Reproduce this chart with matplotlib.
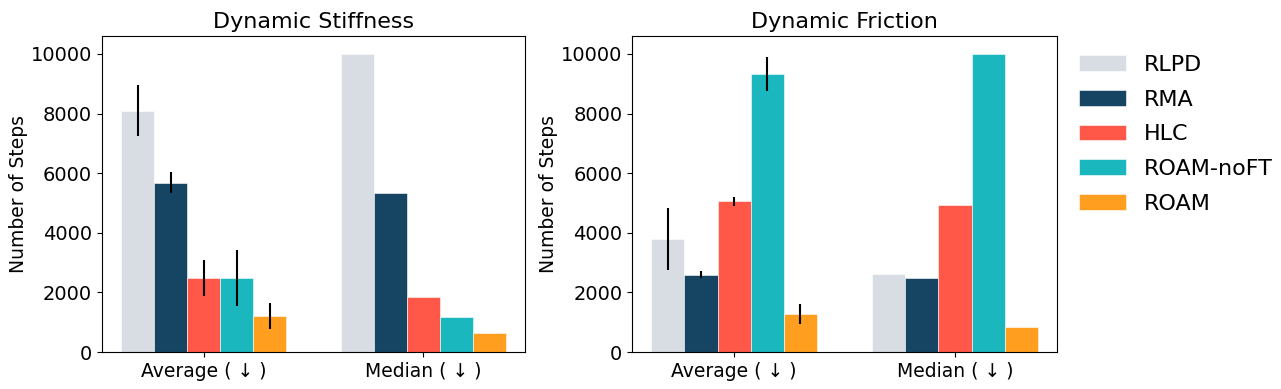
import numpy as np
import matplotlib
matplotlib.use("Agg")
import matplotlib.pyplot as plt

# Data
methods = ["RLPD", "RMA", "HLC", "ROAM-noFT", "ROAM"]
colors = ["#D8DCE3", "#164563", "#FF5748", "#1AB8BE", "#FF9E1F"]
groups = ["Average ( \u2193 )", "Median ( \u2193 )"]

stiff_avg = [8100, 5680, 2480, 2470, 1195]
stiff_avg_err = [860, 350, 600, 940, 435]
stiff_med = [10000, 5330, 1830, 1160, 625]

fric_avg = [3790, 2600, 5050, 9310, 1270]
fric_avg_err = [1030, 117, 160, 570, 335]
fric_med = [2610, 2475, 4940, 10000, 836]

panels = [
    ("Dynamic Stiffness", stiff_avg, stiff_avg_err, stiff_med),
    ("Dynamic Friction", fric_avg, fric_avg_err, fric_med),
]

fig = plt.figure(figsize=(12.81, 3.89), dpi=100)
ax_pos = [[0.0796, 0.0951, 0.3302, 0.8123], [0.4934, 0.0951, 0.3318, 0.8123]]

x = np.arange(len(groups))
width = 0.15
handles = []
for k, (pos, (title, avg, err, med)) in enumerate(zip(ax_pos, panels)):
    ax = fig.add_axes(pos)
    for i, m in enumerate(methods):
        off = (i - 2) * width
        ax.bar(x[0] + off, avg[i], width, color=colors[i], edgecolor="white", linewidth=0.4)
        b = ax.bar(x[1] + off, med[i], width, color=colors[i], edgecolor="white", linewidth=0.4, label=m)
        ax.errorbar(x[0] + off, avg[i], yerr=err[i], fmt="none", ecolor="black", elinewidth=1.5, capsize=0)
        if k == 0:
            handles.append(b)
    ax.set_xticks(x)
    ax.set_xticklabels(groups, fontsize=13.5)
    ax.tick_params(axis="y", labelsize=14)
    ax.set_yticks([0, 2000, 4000, 6000, 8000, 10000])
    ax.set_ylim(0, 10600)
    ax.set_ylabel("Number of Steps", fontsize=13.5, labelpad=2)
    ax.set_title(title, fontsize=16)

fig.legend(handles, methods, loc="upper left", bbox_to_anchor=(0.827, 0.91),
           frameon=False, fontsize=16, handlelength=2.1, labelspacing=0.66)

plt.savefig("out.png", dpi=100)
